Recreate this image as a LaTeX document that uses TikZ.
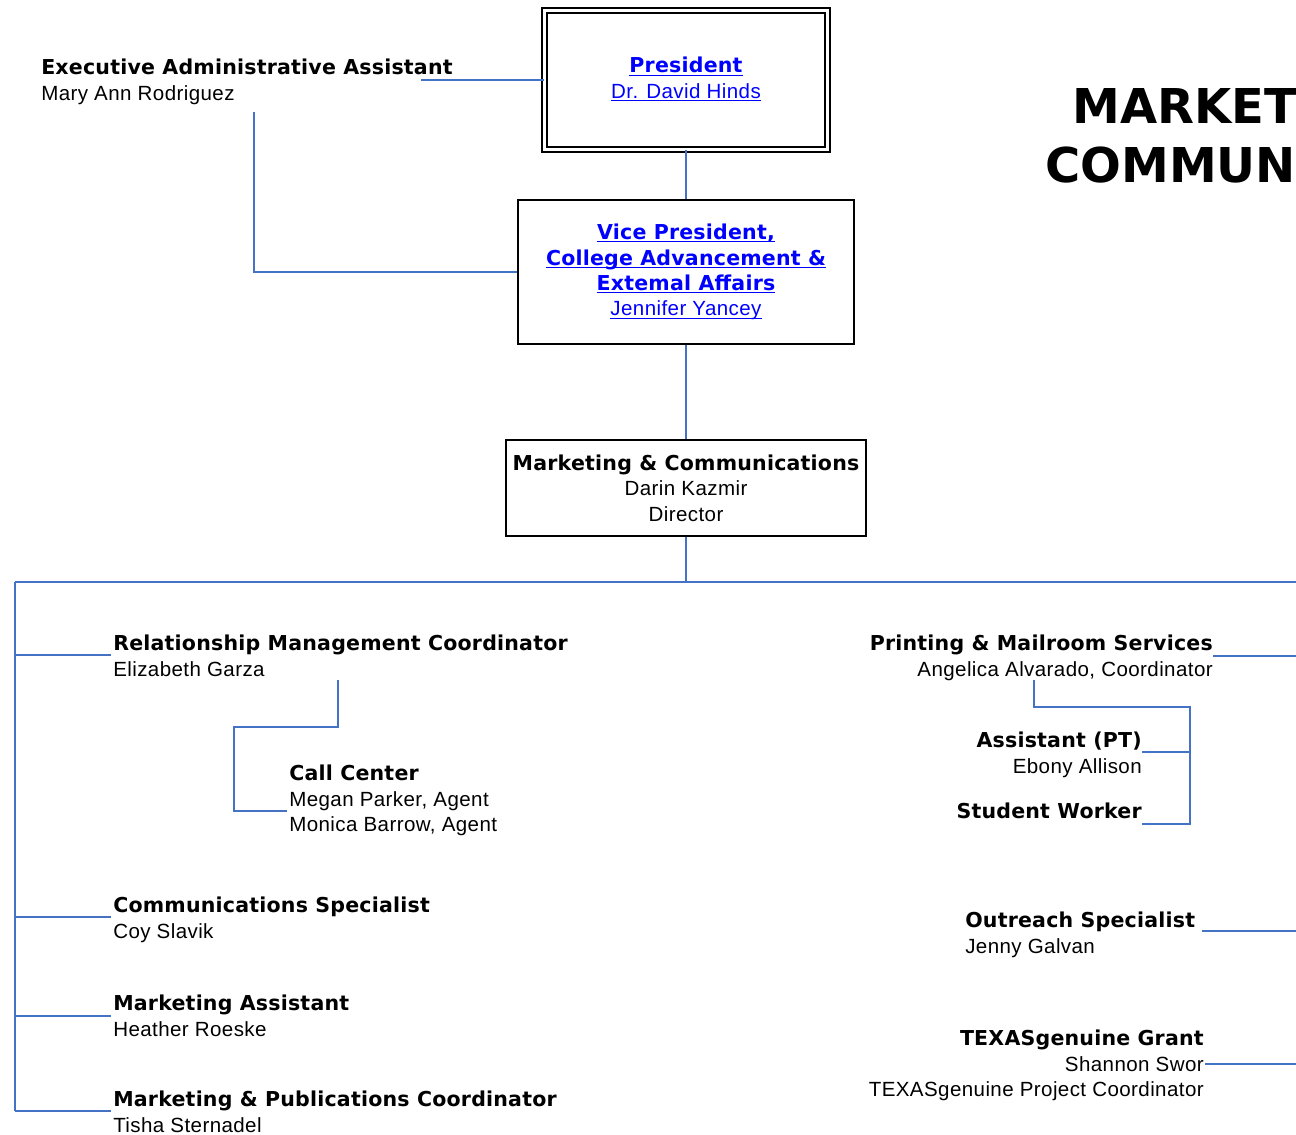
\documentclass[tikz,border=0pt]{standalone}
\usepackage{fontspec}
\usepackage{xcolor}
\usepackage{tikz}

\setmainfont{Liberation Sans}[LetterSpace=2]
\newfontfamily\hdfont{DejaVu Sans}[LetterSpace=1]
\newfontfamily\bigfont{DejaVu Sans}
\definecolor{linkblue}{RGB}{0,0,255}
\definecolor{lineblue}{RGB}{68,114,196}
\newcommand{\hd}[1]{{\hdfont\bfseries #1}}
\newcommand{\lnk}[1]{\textcolor{linkblue}{\underline{\vphantom{A}\smash{#1}}}}

\begin{document}
\begin{tikzpicture}[
    x=0.75pt, y=-0.75pt,
    font=\fontsize{15.4}{19.1}\selectfont,
    box/.style={rectangle, draw, line width=1.1pt, align=center, inner sep=0pt},
    entry/.style={inner sep=0pt, align=left},
    rentry/.style={inner sep=0pt, align=right, anchor=north east},
    title/.style={inner sep=0pt, anchor=base west, font=\bigfont\bfseries\fontsize{36}{40}\selectfont},
    link/.style={draw=lineblue, line width=1.1pt}
]
    \useasboundingbox (0,0) rectangle (1296,1135);

    % Top of the chart
    \node [box, double, double distance=2.6pt, minimum width=212pt, minimum height=104pt] (pres) at (686,80) {\lnk{\hd{President}}\\\lnk{Dr. David Hinds}};
    \node [box, minimum width=252pt, minimum height=108pt] (vp) at (686,272) {\lnk{\hd{Vice President,}}\\\lnk{\hd{College Advancement \&}}\\\lnk{\hd{Extemal Affairs}}\\\lnk{Jennifer Yancey}};
    \node [box, minimum width=270pt, minimum height=72pt] (dir) at (686,488) {\hd{Marketing \& Communications}\\Darin Kazmir\\Director};

    \node [entry, anchor=north west] (asst) at (41,59) {\hd{Executive Administrative Assistant}\\Mary Ann Rodriguez};

    % Title
    \node [title] (title1) at (1072,123) {MARKET};
    \node [title] (title2) at (1045,182) {COMMUN};

    % Left column
    \node [entry, anchor=north west] (rmc) at (113,635) {\hd{Relationship Management Coordinator}\\Elizabeth Garza};
    \node [entry, anchor=north west] (call) at (289,765) {\hd{Call Center}\\Megan Parker, Agent\\Monica Barrow, Agent};
    \node [entry, anchor=north west] (comm) at (113,897) {\hd{Communications Specialist}\\Coy Slavik};
    \node [entry, anchor=north west] (masst) at (113,995) {\hd{Marketing Assistant}\\Heather Roeske};
    \node [entry, anchor=north west] (mpc) at (113,1091) {\hd{Marketing \& Publications Coordinator}\\Tisha Sternadel};

    % Right column
    \node [rentry] (pms) at (1213,635) {\hd{Printing \& Mailroom Services}\\Angelica Alvarado, Coordinator};
    \node [rentry] (apt) at (1142,732) {\hd{Assistant (PT)}\\Ebony Allison};
    \node [rentry] (sw) at (1142,803) {\hd{Student Worker}};
    \node [entry, anchor=north west] (outreach) at (965,912) {\hd{Outreach Specialist}\\Jenny Galvan};
    \node [rentry] (tex) at (1204,1030) {\hd{TEXASgenuine Grant}\\Shannon Swor\\TEXASgenuine Project Coordinator};

    % Connector ends
    \coordinate (asstR) at (421,80);
    \coordinate (asstB) at (254,112);
    \coordinate (busL) at (15,582);
    \coordinate (busR) at (1296,582);
    \coordinate (leftEnd) at (15,1111);
    \coordinate (rmcJ) at (111,655);
    \coordinate (commJ) at (111,917);
    \coordinate (masstJ) at (111,1016);
    \coordinate (mpcJ) at (111,1111);
    \coordinate (rmcD) at (338,680);
    \coordinate (callK) at (234,727);
    \coordinate (callJ) at (287,811);
    \coordinate (pmsJ) at (1213,656);
    \coordinate (pmsD) at (1034,680);
    \coordinate (pmsK) at (1190,707);
    \coordinate (aptJ) at (1142,752);
    \coordinate (swJ) at (1142,824);
    \coordinate (outJ) at (1202,931);
    \coordinate (texJ) at (1205,1064);

    % Upper links
    \path [link] (asstR) -- (pres.west);
    \path [link] (asstB) |- (vp.west);
    \path [link] (pres.south) -- (vp.north);
    \path [link] (vp.south) -- (dir.north);
    \path [link] (dir.south) -- (dir.south |- busL);
    \path [link] (busL) -- (busR);
    \path [link] (busL) -- (leftEnd);

    % Left branches
    \foreach \j in {rmcJ,commJ,masstJ,mpcJ}
        \path [link] (busL |- \j) -- (\j);
    \path [link] (rmcD) |- (callK) |- (callJ);

    % Right branches
    \path [link] (pmsJ) -- (busR |- pmsJ);
    \path [link] (pmsD) |- (pmsK) |- (swJ);
    \path [link] (pmsK |- aptJ) -- (aptJ);
    \path [link] (outJ) -- (busR |- outJ);
    \path [link] (texJ) -- (busR |- texJ);

\end{tikzpicture}
\end{document}
